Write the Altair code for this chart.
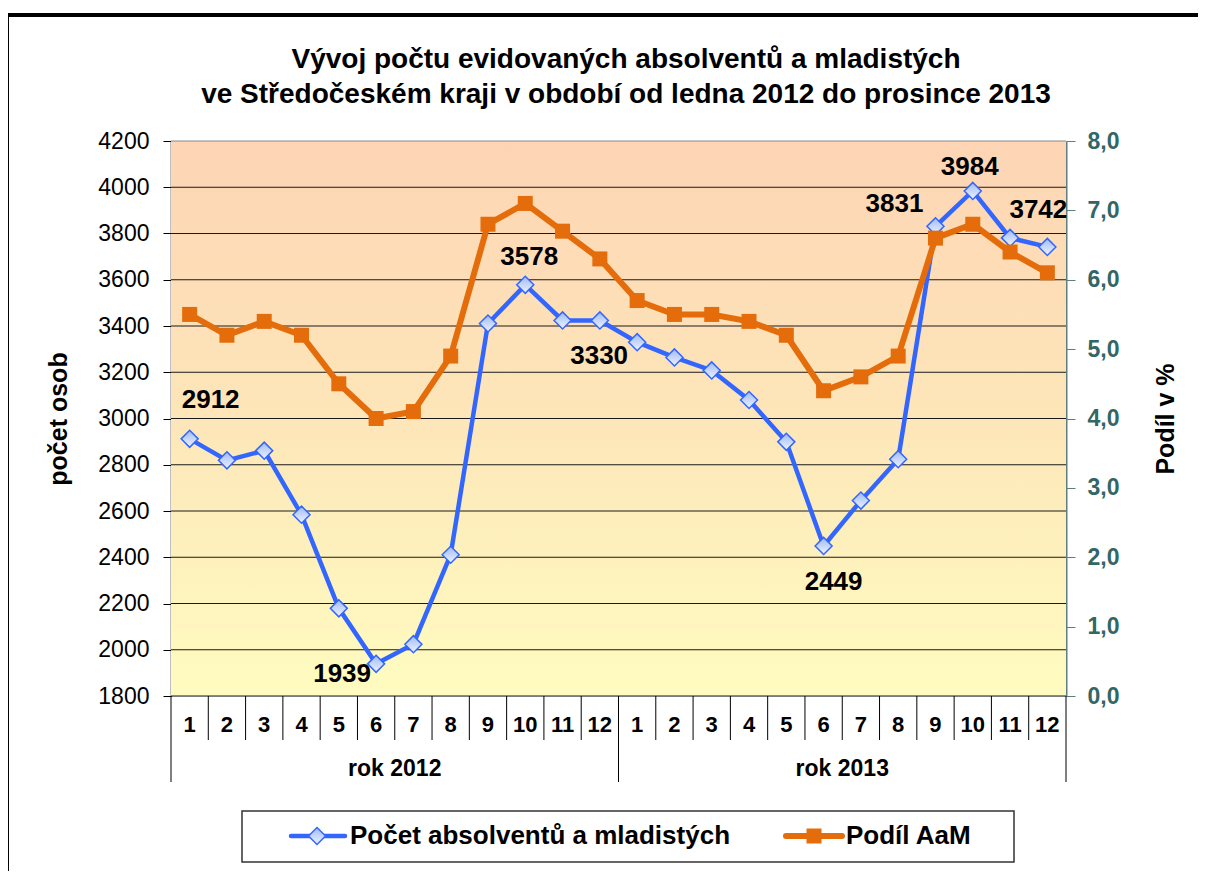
import altair as alt
import pandas as pd

# ---------------- data ----------------
month_labels = [str(m) for m in range(1, 13)] * 2
year_labels = ["rok 2012", "rok 2013"]
pocet = [2912, 2819, 2861, 2584, 2179, 1939, 2024, 2411, 3411, 3578, 3424, 3424,
         3330, 3264, 3208, 3080, 2899, 2449, 2645, 2824, 3831, 3984, 3781, 3742]
podil = [5.5, 5.2, 5.4, 5.2, 4.5, 4.0, 4.1, 4.9, 6.8, 7.1, 6.7, 6.3,
         5.7, 5.5, 5.5, 5.4, 5.2, 4.4, 4.6, 4.9, 6.6, 6.8, 6.4, 6.1]
left_ticks = list(range(1800, 4201, 200))
right_ticks = [0, 1, 2, 3, 4, 5, 6, 7, 8]
# labelled points: (index, dx, dy)
labelled = [(0, 21, -39), (5, -34, 10), (9, 4, -28), (12, -38, 14),
            (17, 10, 36), (20, -41, -22), (21, -3, -24), (23, -9, -37)]

title_lines = ["Vývoj počtu evidovaných absolventů a mladistých",
               "ve Středočeském kraji v období od ledna 2012 do prosince 2013"]
legend_names = ["Počet absolventů a mladistých", "Podíl AaM"]

W, H = 895, 555
FONT = "Liberation Sans"
BLUE = "#3366ff"
ORANGE = "#e46c0a"
TEAL = "#336666"

df = pd.DataFrame({
    "pos": [i + 0.5 for i in range(24)],
    "pocet": pocet,
    "podil": podil,
    "month": month_labels,
})

xs = alt.Scale(domain=[0, 24], nice=False, zero=False)
X = alt.X("pos:Q", scale=xs, axis=None)
ysl = alt.Scale(domain=[1800, 4200], nice=False, zero=False)
ysr = alt.Scale(domain=[0, 8], nice=False, zero=False)

left_axis = alt.Axis(values=left_ticks, format="d", grid=False, domainColor="#000000", domainWidth=1.5,
                     tickColor="#000000", tickSize=8, labelFont=FONT, labelFontSize=23,
                     labelColor="#000000", labelPadding=14, title="počet osob",
                     titleFont=FONT, titleFontSize=25, titleFontWeight="bold",
                     titleColor="#000000", titlePadding=26)
right_axis = alt.Axis(values=right_ticks, grid=False, domainColor="#5f7f7f", domainWidth=2,
                      tickColor="#5f7f7f", tickSize=9, labelFont=FONT, labelFontSize=23,
                      labelFontWeight="bold", labelColor=TEAL, labelPadding=12,
                      labelExpr="replace(format(datum.value, '.1f'), '.', ',')",
                      title="Podíl v %", titleFont=FONT, titleFontSize=25, titleAngle=270,
                      titleBaseline="bottom",
                      titleFontWeight="bold", titleColor="#000000", titlePadding=60)

one = pd.DataFrame({"a": [0]})

# background gradient of plot area
bg = alt.Chart(one).mark_rect(
    fill=alt.LinearGradient(gradient="linear", x1=0, y1=0, x2=0, y2=1,
                            stops=[alt.GradientStop(color="#fdd5b5", offset=0),
                                   alt.GradientStop(color="#fde6b9", offset=0.5),
                                   alt.GradientStop(color="#fffcc0", offset=1)])
).encode(x=alt.value(0), x2=alt.value(W), y=alt.value(0), y2=alt.value(H))

# outer frame
frame = alt.Chart(one).mark_rect(fill=None, stroke="#000000", strokeWidth=4).encode(
    x=alt.value(-164), x2=alt.value(1029), y=alt.value(-126), y2=alt.value(760))

# title (drawn as text)
title_df = pd.DataFrame({"t": title_lines, "row": [0, 1]})
title1 = alt.Chart(title_df.iloc[[0]]).mark_text(
    font=FONT, fontSize=28, fontWeight="bold", color="#000000", align="center", baseline="alphabetic"
).encode(x=alt.value(455), y=alt.value(-73), text="t:N")
title2 = alt.Chart(title_df.iloc[[1]]).mark_text(
    font=FONT, fontSize=28, fontWeight="bold", color="#000000", align="center", baseline="alphabetic"
).encode(x=alt.value(455), y=alt.value(-38), text="t:N")

grid_df = pd.DataFrame({"v": left_ticks})
grid = alt.Chart(grid_df).mark_rule(strokeWidth=1).encode(
    y=alt.Y("v:Q", scale=ysl, axis=left_axis),
    x=alt.value(0), x2=alt.value(W),
    color=alt.condition("datum.v == 4200", alt.value("#8a8a8a"), alt.value("#1a1a1a")),
)

diamond_fill = alt.LinearGradient(gradient="linear", x1=0, y1=0, x2=0, y2=1,
                                  stops=[alt.GradientStop(color="#9fbaf2", offset=0),
                                         alt.GradientStop(color="#eef3ff", offset=1)])

blue_line = alt.Chart(df).mark_line(color=BLUE, strokeWidth=4.5).encode(
    x=X, y=alt.Y("pocet:Q", scale=ysl, axis=left_axis))
blue_pts = alt.Chart(df).mark_point(
    shape="diamond", size=290, filled=True, opacity=1, strokeWidth=1.5, stroke=BLUE,
    fill=diamond_fill
).encode(x=X, y=alt.Y("pocet:Q", scale=ysl, axis=left_axis))

label_layers = []
for idx, dx, dy in labelled:
    sub = df.iloc[[idx]]
    label_layers.append(
        alt.Chart(sub).mark_text(font=FONT, fontSize=26, fontWeight="bold", color="#000000",
                                 align="center", baseline="middle", dx=dx, dy=dy).encode(
            x=X, y=alt.Y("pocet:Q", scale=ysl, axis=left_axis), text=alt.Text("pocet:Q", format="d")))

# category axis (two levels)
month_txt = alt.Chart(df).mark_text(font=FONT, fontSize=22, fontWeight="bold", color="#000000",
                                    baseline="middle").encode(
    x=X, y=alt.value(H + 29), text="month:N")
sep_df = pd.DataFrame({"s": list(range(25))})
month_sep = alt.Chart(sep_df).mark_rule(color="#000000", strokeWidth=1).encode(
    x=alt.X("s:Q", scale=xs, axis=None), y=alt.value(H), y2=alt.value(H + 44))
year_sep_df = pd.DataFrame({"s": [0, 12, 24]})
year_sep = alt.Chart(year_sep_df).mark_rule(color="#000000", strokeWidth=1).encode(
    x=alt.X("s:Q", scale=xs, axis=None), y=alt.value(H + 44), y2=alt.value(H + 86))
year_df = pd.DataFrame({"c": [6, 18], "t": year_labels})
year_txt = alt.Chart(year_df).mark_text(font=FONT, fontSize=23, fontWeight="bold", color="#000000",
                                        baseline="middle").encode(
    x=alt.X("c:Q", scale=xs, axis=None), y=alt.value(H + 73), text="t:N")

# legend (drawn)
leg_box = alt.Chart(one).mark_rect(fill="#ffffff", stroke="#333333", strokeWidth=1.5).encode(
    x=alt.value(71), x2=alt.value(843), y=alt.value(670), y2=alt.value(721))
leg_b_line = alt.Chart(one).mark_rule(color=BLUE, strokeWidth=4.5, strokeCap="round").encode(
    x=alt.value(120), x2=alt.value(174), y=alt.value(695))
leg_b_pt = alt.Chart(one).mark_point(
    shape="diamond", size=290, filled=True, opacity=1, strokeWidth=1.5, stroke=BLUE,
    fill=diamond_fill
).encode(x=alt.value(146), y=alt.value(695))
leg_o_line = alt.Chart(one).mark_rule(color=ORANGE, strokeWidth=6, strokeCap="round").encode(
    x=alt.value(615), x2=alt.value(671), y=alt.value(695))
leg_o_pt = alt.Chart(one).mark_square(size=225, color=ORANGE, opacity=1).encode(
    x=alt.value(643), y=alt.value(695))
leg_txt_df = pd.DataFrame({"t": legend_names})
leg_txt1 = alt.Chart(leg_txt_df.iloc[[0]]).mark_text(
    font=FONT, fontSize=26, fontWeight="bold", color="#000000", align="left", baseline="middle"
).encode(x=alt.value(179), y=alt.value(695), text="t:N")
leg_txt2 = alt.Chart(leg_txt_df.iloc[[1]]).mark_text(
    font=FONT, fontSize=26, fontWeight="bold", color="#000000", align="left", baseline="middle"
).encode(x=alt.value(675), y=alt.value(695), text="t:N")

left = alt.layer(bg, frame, title1, title2, grid, blue_line, blue_pts, *label_layers,
                 month_sep, year_sep, month_txt, year_txt,
                 leg_box, leg_b_line, leg_b_pt, leg_o_line, leg_o_pt, leg_txt1, leg_txt2)

orange_line = alt.Chart(df).mark_line(color=ORANGE, strokeWidth=6).encode(
    x=X, y=alt.Y("podil:Q", scale=ysr, axis=right_axis))
orange_pts = alt.Chart(df).mark_square(size=225, color=ORANGE, opacity=1).encode(
    x=X, y=alt.Y("podil:Q", scale=ysr, axis=right_axis))
right = alt.layer(orange_line, orange_pts)

chart = alt.layer(left, right).resolve_scale(y="independent").properties(
    width=W, height=H,
    padding={"left": 163, "top": 133, "right": 132, "bottom": 175},
    autosize=alt.AutoSizeParams(type="none"),
).configure_view(stroke=None).configure(background="#ffffff")

chart.save("out.html", embed_options={"renderer": "svg", "actions": False})
